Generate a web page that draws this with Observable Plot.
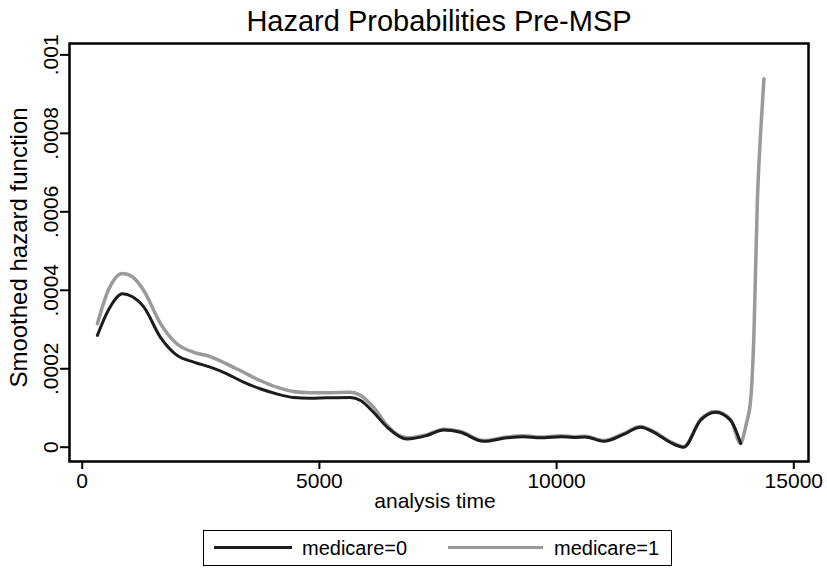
<!DOCTYPE html>
<html><head><meta charset="utf-8">
<script src="https://cdn.jsdelivr.net/npm/d3@7"></script>
<script src="https://cdn.jsdelivr.net/npm/@observablehq/plot@0.6"></script>
<style>
body{margin:0;background:#fff;}
#wrap{position:relative;width:827px;height:569px;font-family:"Liberation Sans",Arial,Helvetica,sans-serif;background:#fff;overflow:hidden;}
#legend{position:absolute;left:203px;top:530px;width:469px;height:36px;border:1.5px solid #000;box-sizing:border-box;background:#fff;}
#legend .sw{position:absolute;height:0;}
#legend .lt{position:absolute;font-size:20px;line-height:20px;color:#000;white-space:nowrap;}
</style></head><body><div id="wrap"></div>
<script>
const titleText = "Hazard Probabilities Pre-MSP";
const xLabel = "analysis time";
const yLabel = "Smoothed hazard function";
const seriesNames = ["medicare=0", "medicare=1"];
const seriesColors = ["#1c1c1c", "#9a9a9a"];
const xTicks = [0, 5000, 10000, 15000];
const yTicks = [0, 0.0002, 0.0004, 0.0006, 0.0008, 0.001];
const yTickLabels = ["0", ".0002", ".0004", ".0006", ".0008", ".001"];

// medicare=0
const time0 = [320, 550, 850, 1050, 1300, 1650, 2000, 2350, 2700, 3050, 3400, 3750, 4100, 4450, 4800, 5150, 5650, 5870, 6140, 6430, 6850, 7270, 7620, 7970, 8460, 8960, 9300, 9660, 10100, 10360, 10600, 11000, 11400, 11770, 12050, 12400, 12680, 13030, 13350, 13670, 13880];
const hazard0 = [0.000285, 0.000349, 0.000391, 0.000384, 0.000357, 0.000280, 0.000234, 0.000217, 0.000204, 0.000187, 0.000166, 0.000149, 0.000136, 0.000127, 0.000125, 0.000126, 0.000127, 0.000119, 0.000089, 0.000051, 0.000021, 0.000030, 0.000044, 0.000038, 0.000015, 0.000024, 0.000027, 0.000024, 0.000027, 0.000025, 0.000026, 0.000015, 0.000032, 0.000051, 0.000038, 0.000012, 0.000000, 0.000068, 0.000089, 0.000068, 0.000010];

// medicare=1
const time1 = [320, 550, 850, 1050, 1300, 1650, 2000, 2350, 2700, 3050, 3400, 3750, 4100, 4450, 4800, 5150, 5650, 5870, 6140, 6430, 6850, 7270, 7620, 7970, 8460, 8960, 9300, 9660, 10100, 10360, 10600, 11000, 11400, 11770, 12050, 12400, 12680, 13030, 13350, 13670, 13880, 13910, 14000, 14090, 14160, 14230, 14300, 14370];
const hazard1 = [0.000315, 0.000400, 0.000443, 0.000435, 0.000399, 0.000315, 0.000263, 0.000242, 0.000231, 0.000212, 0.000191, 0.000170, 0.000153, 0.000142, 0.000139, 0.000139, 0.000140, 0.000132, 0.000102, 0.000055, 0.000024, 0.000032, 0.000046, 0.000040, 0.000017, 0.000026, 0.000029, 0.000026, 0.000029, 0.000027, 0.000028, 0.000017, 0.000034, 0.000053, 0.000040, 0.000014, 0.000001, 0.000070, 0.000091, 0.000070, 0.000009, 0.000017, 0.000060, 0.000119, 0.000289, 0.000620, 0.000800, 0.000939];

const rows0 = time0.map((t, i) => ({t, h: hazard0[i]}));
const rows1 = time1.map((t, i) => ({t, h: hazard1[i]}));

const chart = Plot.plot({
  width: 827,
  height: 569,
  marginLeft: 69,
  marginRight: 19,
  marginTop: 43,
  marginBottom: 108,
  x: {domain: [-268, 15310]},
  y: {domain: [-0.0000364, 0.001029]},
  style: {fontFamily: "'Liberation Sans', Arial, Helvetica, sans-serif", color: "#000", background: "#fff", overflow: "visible"},
  marks: [
    Plot.line(rows1, {x: "t", y: "h", stroke: seriesColors[1], strokeWidth: 3.5, curve: "monotone-x"}),
    Plot.line(rows0, {x: "t", y: "h", stroke: seriesColors[0], strokeWidth: 3, curve: "monotone-x"}),
    Plot.frame({stroke: "#000", strokeWidth: 2.5}),
    Plot.axisX({ticks: xTicks, tickSize: 8, tickPadding: 4, strokeWidth: 2, fontSize: 21, tickFormat: d => String(d), label: null}),
    Plot.axisY({ticks: yTicks, tickSize: 9, tickPadding: 3, tickRotate: -90, strokeWidth: 2, fontSize: 21, tickFormat: d => yTickLabels[yTicks.indexOf(d)], label: null}),
    Plot.text([titleText], {frameAnchor: "top", dy: -33, fontSize: 29, fill: "#000"}),
    Plot.text([xLabel], {frameAnchor: "bottom", dy: 46, dx: -4, fontSize: 21, fill: "#000"}),
    Plot.text([yLabel], {frameAnchor: "left", textAnchor: "middle", rotate: -90, dx: -50, dy: -5, fontSize: 24, fill: "#000"})
  ]
});
const wrap = document.getElementById("wrap");
wrap.appendChild(chart);

// legend
const legend = document.createElement("div");
legend.id = "legend";
const swLeft = [10, 244];
const swWidth = [78, 95];
const txtLeft = [98, 350];
seriesNames.forEach((name, i) => {
  const sw = document.createElement("div");
  sw.className = "sw";
  sw.style.left = swLeft[i] + "px";
  sw.style.width = swWidth[i] + "px";
  sw.style.top = "15px";
  sw.style.borderTop = (i === 0 ? 3 : 3.5) + "px solid " + seriesColors[i];
  legend.appendChild(sw);
  const tx = document.createElement("span");
  tx.className = "lt";
  tx.style.left = txtLeft[i] + "px";
  tx.style.top = "7px";
  tx.textContent = name;
  legend.appendChild(tx);
});
wrap.appendChild(legend);
</script>
</body></html>
